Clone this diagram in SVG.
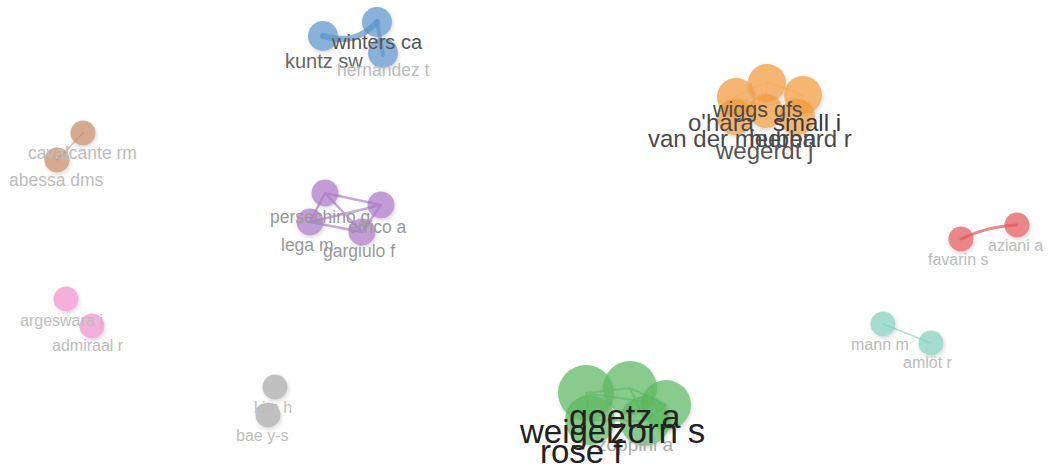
<svg xmlns="http://www.w3.org/2000/svg" width="1051" height="467" viewBox="0 0 1051 467">
  <defs>
    <filter id="soft" x="-30%" y="-30%" width="160%" height="160%">
      <feGaussianBlur in="SourceAlpha" stdDeviation="2"/>
      <feOffset dx="1" dy="2" result="b"/>
      <feComponentTransfer><feFuncA type="linear" slope="0.22"/></feComponentTransfer>
      <feMerge><feMergeNode/><feMergeNode in="SourceGraphic"/></feMerge>
    </filter>
  </defs>
  <style>
    text { font-family: "Liberation Sans", Arial, sans-serif; }
    .n { opacity: 0.72; filter: url(#soft); }
    .blue { fill: #5b94cb; }
    .orange { fill: #f29a3c; }
    .brown { fill: #c48a66; }
    .purple { fill: #ab78c6; }
    .red { fill: #e2585c; }
    .pink { fill: #f093cc; }
    .teal { fill: #82d1bb; }
    .gray { fill: #a9a9a9; }
    .green { fill: #5bb860; }
    .e { fill: none; stroke-linecap: round; }
    .l1 { fill: #bdbdbd; }
    .l3 { fill: #555; }
    .l4 { fill: #222; }
  </style>
  <rect width="1051" height="467" fill="#fff"/>

  <!-- links -->
  <g id="connectors">
    <path class="e" d="M323,36 C345,42 360,40 377,22" stroke="#5b94cb" stroke-width="6" opacity="0.7"/>
    <path class="e" d="M377,22 L383,55" stroke="#5b94cb" stroke-width="4" opacity="0.6"/>
    <path class="e" d="M83,133 L57,160" stroke="#d9bfae" stroke-width="1.5"/>
    <path class="e" d="M325,193 L381,205 M325,193 L310,222 M325,193 L362,232 M381,205 L310,222 M381,205 L362,232 M310,222 L362,232" stroke="#a36fc0" stroke-width="2.5" opacity="0.6"/>
    <path class="e" d="M961,239 C985,228 1000,226 1017,225" stroke="#e2585c" stroke-width="3" opacity="0.7"/>
    <path class="e" d="M883,324 L931,343" stroke="#b5e1d4" stroke-width="1.5"/>
    <path class="e" d="M735,97 L767,82 L803,95 L797,117 L765,110 L733,117 Z M765,110 L767,82 M735,97 L797,117 M803,95 L733,117" stroke="#fde4c8" stroke-width="1.5" opacity="0.8"/>
    <path class="e" d="M586,393 L630,388 L666,405 L645,421 L590,420 Z M630,388 L645,421 M586,393 L666,405" stroke="#3f9a45" stroke-width="2" opacity="0.45"/>
  </g>

  <g id="cluster-blue">
    <circle class="n blue" cx="323" cy="36" r="15"/>
    <circle class="n blue" cx="377" cy="22" r="15"/>
    <circle class="n blue" cx="383" cy="53" r="15"/>
    <text class="l3" x="332" y="49" font-size="20">winters ca</text>
    <text x="285" y="68" font-size="20" fill="#666">kuntz sw</text>
    <text class="l1" x="337" y="76" font-size="17.5">hernandez t</text>
  </g>

  <g id="cluster-orange">
    <circle class="n orange" cx="736" cy="97" r="19"/>
    <circle class="n orange" cx="767" cy="83" r="19"/>
    <circle class="n orange" cx="803" cy="95" r="19"/>
    <circle class="n orange" cx="735" cy="117" r="18"/>
    <circle class="n orange" cx="797" cy="117" r="18"/>
    <circle class="n orange" cx="766" cy="111" r="17"/>
    <text x="713" y="117" font-size="21.5" fill="#4a4a4a">wiggs gfs</text>
    <text x="688" y="131" font-size="24" fill="#4a4a4a">o'hara</text>
    <text x="773" y="131" font-size="24" fill="#3a3a3a">small i</text>
    <text x="648" y="147" font-size="24" fill="#4a4a4a">van der meeren</text>
    <text x="749" y="147" font-size="24" fill="#4a4a4a">hubbard r</text>
    <text x="716" y="159" font-size="24" fill="#555">wegerdt j</text>
  </g>

  <g id="cluster-brown">
    <circle class="n brown" cx="83" cy="133" r="12.5"/>
    <circle class="n brown" cx="57" cy="160" r="12.5"/>
    <text class="l1" x="28" y="159" font-size="17.5">cavalcante rm</text>
    <text class="l1" x="9" y="186" font-size="17.5">abessa dms</text>
  </g>

  <g id="cluster-purple">
    <circle class="n purple" cx="325" cy="193" r="13.5"/>
    <circle class="n purple" cx="381" cy="205" r="13.5"/>
    <circle class="n purple" cx="310" cy="222" r="13.5"/>
    <circle class="n purple" cx="362" cy="232" r="13.5"/>
    <text x="270" y="223" font-size="17.5" fill="#999">persechino g</text>
    <text x="348" y="233" font-size="17.5" fill="#999">errico a</text>
    <text x="281" y="251" font-size="17.5" fill="#999">lega m</text>
    <text x="323" y="257" font-size="17.5" fill="#999">gargiulo f</text>
  </g>

  <g id="cluster-red">
    <circle class="n red" cx="961" cy="239" r="12.5"/>
    <circle class="n red" cx="1017" cy="225" r="12.5"/>
    <text class="l1" x="988" y="251" font-size="16">aziani a</text>
    <text class="l1" x="928" y="265" font-size="16">favarin s</text>
  </g>

  <g id="cluster-pink">
    <circle class="n pink" cx="66" cy="299" r="12.5"/>
    <circle class="n pink" cx="92" cy="326" r="12.5"/>
    <text class="l1" x="20" y="326" font-size="16">argeswara j</text>
    <text class="l1" x="52" y="351" font-size="16">admiraal r</text>
  </g>

  <g id="cluster-teal">
    <circle class="n teal" cx="883" cy="324" r="12.5"/>
    <circle class="n teal" cx="931" cy="343" r="12.5"/>
    <text class="l1" x="851" y="350" font-size="16">mann m</text>
    <text class="l1" x="903" y="368" font-size="16">amlöt r</text>
  </g>

  <g id="cluster-gray">
    <circle class="n gray" cx="275" cy="387" r="12.5"/>
    <circle class="n gray" cx="268" cy="415" r="12.5"/>
    <text class="l1" x="254" y="413" font-size="16">kim h</text>
    <text class="l1" x="236" y="441" font-size="16">bae y-s</text>
  </g>

  <g id="cluster-green">
    <circle class="n green" cx="586" cy="393" r="28"/>
    <circle class="n green" cx="630" cy="388" r="27"/>
    <circle class="n green" cx="666" cy="405" r="25"/>
    <circle class="n green" cx="590" cy="420" r="25"/>
    <circle class="n green" cx="645" cy="421" r="25"/>
    <text x="597" y="451" font-size="19" fill="#aaa">zoppini a</text>
    <text class="l4" x="569" y="428" font-size="34">goetz a</text>
    <text class="l4" x="520" y="443" font-size="33">weigel</text>
    <text class="l4" x="610" y="443" font-size="35">zorn s</text>
    <text class="l4" x="540" y="463" font-size="33">rose f</text>
  </g>
</svg>
